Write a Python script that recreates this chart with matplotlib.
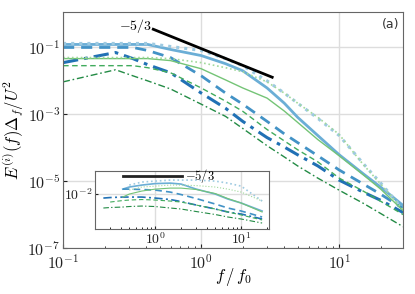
import numpy as np
import matplotlib
matplotlib.use('Agg')
import matplotlib.pyplot as plt
from matplotlib import rcParams
from matplotlib.ticker import FuncFormatter, NullLocator

rcParams['mathtext.fontset'] = 'cm'
rcParams['xtick.direction'] = 'in'
rcParams['ytick.direction'] = 'in'

nan = np.nan

# main panel: normalised frequency and spectra
f = [0.1, 0.24, 0.32, 0.41, 0.6, 1, 1.5, 2, 3, 4, 5, 7, 10, 15, 20, 29]
lb_solid = [0.123, 0.123, 0.123, 0.123, 0.0869, 0.0572, 0.0327, 0.0201, 0.00614,
            0.00215, 8.11e-4, 2.31e-4, 6.14e-5, 1.63e-5, 6.58e-6, 1.87e-6]
lb_dot = [0.132, 0.132, 0.132, 0.132, 0.107, 0.0811, 0.0464, 0.0285, 0.0100,
          0.0043, 0.00215, 7.56e-4, 2.31e-4, 3.27e-5, 8.69e-6, 1.42e-6]
mb_dash = [0.1, 0.1, 0.1, 0.0811, 0.0498, 0.0142, 0.00433, 0.00201, 6.14e-4,
           2.6e-4, 1.42e-4, 5.72e-5, 2.15e-5, 8.11e-6, 4.04e-6, 1.52e-6]
db_dashdot = [0.0351, 0.0705, 0.0464, 0.0305, 0.0175, 0.00433, 0.00152, 6.14e-4,
              2.01e-4, 1.05e-4, 6.14e-5, 2.85e-5, 1.07e-5, 4.64e-6, 2.66e-6, 1.15e-6]
lg_solid = [0.0464, 0.0464, 0.0464, 0.0464, 0.0404, 0.0231, 0.0107, 0.00614, 0.00305,
            1.25e-3, 5.72e-4, 1.75e-4, 5.72e-5, 1.52e-5, 5.72e-6, 1.32e-6]
lg_dot = [0.0498, 0.0498, 0.0498, 0.0498, 0.0464, 0.0351, 0.0248, 0.0187, 0.00933,
          0.0043, 0.00215, 8.11e-4, 2.48e-4, 3.05e-5, 8.11e-6, 1.42e-6]
mg_dash = [0.0285, 0.0285, 0.0285, 0.0248, 0.0175, 0.00614, 0.00248, 0.00123, 3.51e-4,
           1.6e-4, 8.69e-5, 3.77e-5, 1.23e-5, 4.98e-6, 2.48e-6, 1.0e-6]
dg_dashdot = [0.00933, 0.0215, 0.0142, 0.0100, 0.00573, 0.00201, 8.69e-4, 3.77e-4,
              1.15e-4, 5.3e-5, 2.85e-5, 1.23e-5, 5.34e-6, 2.15e-6, 1.07e-6, 4.33e-7]

# inset: compensated spectra
fi = [0.25, 0.3, 0.42, 0.5, 0.7, 1, 1.5, 2, 3, 5, 7, 10, 17.5]
lb_solid_c = [nan, nan, 0.0133, 0.0150, 0.0168, 0.0183, 0.0188, 0.0178, 0.0133,
              0.0100, 0.00750, 0.00596, 0.00376]
lb_dot_c = [nan, nan, nan, 0.0168, 0.0200, 0.0211, 0.0224, 0.0224, 0.0224,
            0.0211, 0.0188, 0.0158, 0.00668]
mb_dash_c = [nan, nan, 0.0133, 0.0133, 0.0130, 0.0126, 0.0112, 0.00972, 0.00772,
             0.00562, 0.00447, 0.00376, 0.00266]
db_dashdot_c = [0.00794, 0.00818, 0.00841, 0.00841, 0.00841, 0.00794, 0.00729, 0.00649,
                0.00531, 0.00422, 0.00355, 0.00316, 0.00237]
lg_solid_c = [nan, nan, 0.00841, 0.0100, 0.0119, 0.0133, 0.0141, 0.0141, 0.0130,
              0.0103, 0.00772, 0.00596, 0.00355]
lg_dot_c = [nan, nan, nan, 0.0126, 0.0150, 0.0158, 0.0168, 0.0168, 0.0163,
            0.0150, 0.0133, 0.0112, 0.00668]
mg_dash_c = [nan, 0.00631, 0.00688, 0.00708, 0.00729, 0.00708, 0.00668, 0.00631,
             0.00531, 0.00422, 0.00355, 0.00299, 0.00224]
dg_dashdot_c = [0.00447, 0.00460, 0.00473, 0.00487, 0.00501, 0.00487, 0.00447, 0.00422,
                0.00365, 0.00307, 0.00266, 0.00237, 0.00188]

# -5/3 reference lines
ref_f = np.array([0.45, 3.27])
ref_E = 0.35 * (ref_f / 0.45) ** (-5. / 3)
ref_fi = [0.42, 2.06]
ref_Ei = [0.0287, 0.0287]

styles = [
    (lb_solid, lb_solid_c, '#6baed6', '-', 2.0, 1.2),
    (lb_dot, lb_dot_c, '#9ecae1', ':', 2.2, 1.2),
    (mb_dash, mb_dash_c, '#4292c6', (0, (4, 2.5)), 2.0, 1.2),
    (db_dashdot, db_dashdot_c, '#2171b5', (0, (5, 2, 1.2, 2)), 2.2, 1.2),
    (lg_solid, lg_solid_c, '#74c476', '-', 1.0, 0.8),
    (lg_dot, lg_dot_c, '#a1d99b', ':', 1.2, 0.8),
    (mg_dash, mg_dash_c, '#41ab5d', (0, (4, 2.5)), 1.0, 0.8),
    (dg_dashdot, dg_dashdot_c, '#238b45', (0, (5, 2, 1.2, 2)), 1.0, 0.8),
]

pow10 = FuncFormatter(lambda v, p: r'$10^{%d}$' % int(round(np.log10(v))))

fig = plt.figure(figsize=(4.15, 2.94), dpi=100)
ax = fig.add_axes([0.152, 0.1565, 0.8193, 0.8027])

for E, Ec, c, ls, lw, lwi in styles:
    ax.loglog(f, E, color=c, ls=ls, lw=lw)
ax.loglog(ref_f, ref_E, color='k', lw=2.0)
ax.text(0.262, 0.94, r'$-5/3$', transform=ax.transAxes, ha='right', va='center',
        fontsize=10)
ax.text(0.99, 0.945, '(a)', transform=ax.transAxes, ha='right', va='center',
        fontsize=9, color='#333333')

ax.set_xlim(0.1, 29)
ax.set_ylim(1e-7, 1.15)
ax.set_yticks([1e-7, 1e-5, 1e-3, 1e-1])
ax.set_xticks([0.1, 1, 10])
ax.xaxis.set_major_formatter(pow10)
ax.yaxis.set_major_formatter(pow10)
ax.yaxis.set_minor_locator(NullLocator())
ax.tick_params(labelsize=11.5, colors='#222222', length=3, pad=2)
ax.tick_params(axis='x', pad=3.5)
ax.tick_params(which='minor', length=1.5)
ax.grid(True, which='major', color='#dddddd', lw=1.0)
ax.set_axisbelow(True)
for s in ax.spines.values():
    s.set_color('#666666')
ax.set_xlabel(r'$f\,/\,f_0$', fontsize=12, labelpad=-4)
ax.set_ylabel(r'$E^{(i)}(f)\Delta_f/U^2$', fontsize=12, labelpad=1)

ins = fig.add_axes([0.229, 0.221, 0.419, 0.197])
for E, Ec, c, ls, lw, lwi in styles:
    ins.loglog(fi, Ec, color=c, ls=ls, lw=lwi)
ins.loglog(ref_fi, ref_Ei, color='#222222', lw=2.0)
ins.text(2.2, 0.0287, r'$-5/3$', ha='left', va='center', fontsize=9)
ins.set_xlim(0.2, 21)
ins.set_ylim(1.33e-3, 3.76e-2)
ins.set_yticks([1e-2])
ins.set_xticks([1, 10])
ins.xaxis.set_major_formatter(pow10)
ins.yaxis.set_major_formatter(pow10)
ins.yaxis.set_minor_locator(NullLocator())
ins.tick_params(labelsize=10, colors='#222222', length=2.5, pad=2)
ins.tick_params(which='minor', length=1.5)
ins.grid(True, which='major', color='#dddddd', lw=1.0)
ins.set_axisbelow(True)
for s in ins.spines.values():
    s.set_color('#666666')

fig.savefig('out.png', dpi=100)
